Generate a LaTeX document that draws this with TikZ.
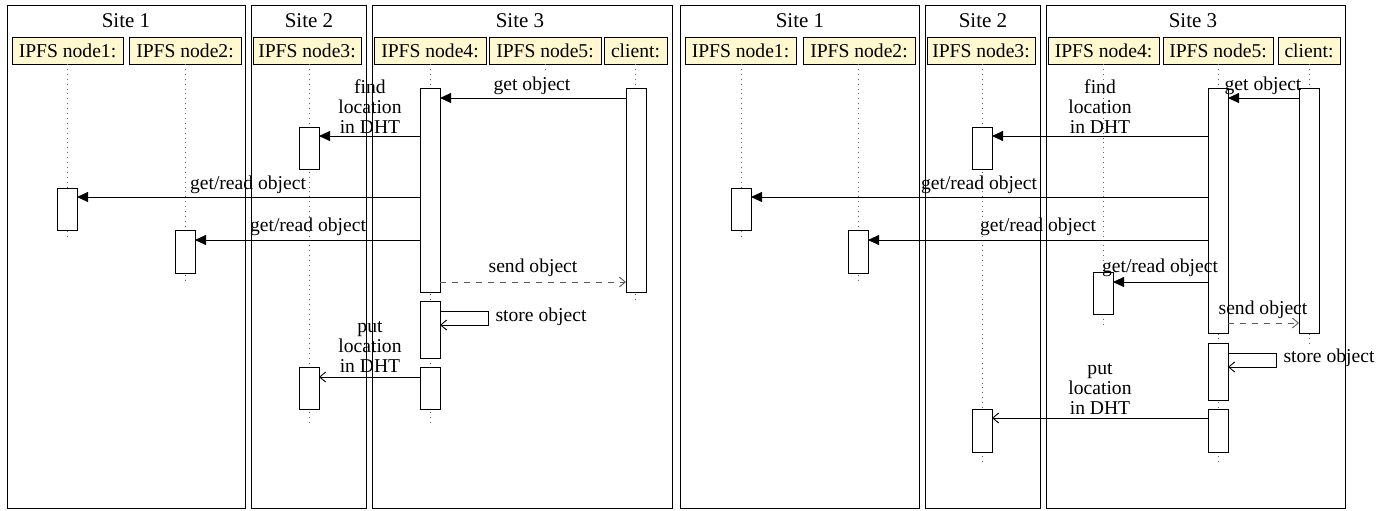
\documentclass[tikz,border=0pt]{standalone}
\usepackage{fontspec}
\setmainfont{Liberation Serif}
\usetikzlibrary{arrows.meta}
\definecolor{hdrfill}{RGB}{255,248,208}
\begin{document}
\begin{tikzpicture}[x=0.5pt,y=-0.5pt,
  every node/.style={font=\fontsize{9.8}{10}\selectfont},
  frame/.style={draw=black,line width=0.45pt},
  title/.style={inner sep=0pt,font=\fontsize{10.5}{11}\selectfont},
  hdr/.style={draw,fill=hdrfill,line width=0.4pt,minimum height=13.5pt,inner sep=0pt,outer sep=0pt},
  actbox/.style={draw,fill=white,line width=0.5pt,minimum width=10pt,inner sep=0pt,outer sep=0pt},
  life/.style={dotted,draw=gray!80!black,line width=0.45pt},
  call/.style={line width=0.45pt,-{Triangle[length=5.5pt,width=5pt]}},
  reply/.style={line width=0.45pt,-{Straight Barb[length=3pt,width=5pt]}},
  ret/.style={line width=0.45pt,dashed,draw=gray!70!black,-{Straight Barb[length=3pt,width=5pt]}},
  lbl/.style={inner sep=0pt,align=center}
]
\newcommand\actnode[4]{\node[actbox,minimum height={(#4-#3)*0.5pt}] (#1) at (#2,{(#3+#4)/2}) {};}
\useasboundingbox (0,0) rectangle (1391,510);

% ================= LEFT DIAGRAM =================
\node[frame,draw,minimum width=119pt,minimum height=251.5pt,inner sep=0pt] (Lf1) at (126,256.5) {};
\node[frame,draw,minimum width=57.5pt,minimum height=251.5pt,inner sep=0pt] (Lf2) at (308.5,256.5) {};
\node[frame,draw,minimum width=150pt,minimum height=251.5pt,inner sep=0pt] (Lf3) at (522,256.5) {};
\node[title] (Lt1) at (126,21) {Site 1};
\node[title] (Lt2) at (309,21) {Site 2};
\node[title] (Lt3) at (520,21) {Site 3};

\node[hdr,minimum width=55.5pt] (Lh1) at (67.5,50.5) {IPFS node1:};
\node[hdr,minimum width=56pt] (Lh2) at (185,50.5) {IPFS node2:};
\node[hdr,minimum width=54pt] (Lh3) at (307,50.5) {IPFS node3:};
\node[hdr,minimum width=56pt] (Lh4) at (430,50.5) {IPFS node4:};
\node[hdr,minimum width=56pt] (Lh5) at (545,50.5) {IPFS node5:};
\node[hdr,minimum width=31.5pt] (Lhc) at (635.5,50.5) {client:};

\coordinate (Le1) at (67,238);
\coordinate (Le2) at (185,283);
\coordinate (Le3) at (309,422);
\coordinate (Le4) at (430,422);
\coordinate (Le5) at (545,72);
\coordinate (Lec) at (635,300);
\draw[life] (Lh1.south -| Le1) -- (Le1);
\draw[life] (Lh2.south -| Le2) -- (Le2);
\draw[life] (Lh3.south -| Le3) -- (Le3);
\draw[life] (Lh4.south -| Le4) -- (Le4);
\draw[life] (Lh5.south -| Le5) -- (Le5);
\draw[life] (Lhc.south -| Lec) -- (Lec);

\actnode{La4a}{430}{88}{292}
\actnode{Lac}{636}{88}{292}
\actnode{La3a}{309}{127}{169}
\actnode{La1}{67}{188}{230}
\actnode{La2}{185}{230}{273}
\actnode{La4b}{430}{301}{358}
\actnode{La4c}{430}{367}{409}
\actnode{La3b}{309}{367}{409}

\draw[call] (Lac.west |- 0,98) -- (La4a.east |- 0,98);
\node[lbl] (Ll1) at (532,86) {get object};
\draw[call] (La4a.west |- 0,136) -- (La3a.east |- 0,136);
\node[lbl] (Ll2) at (370,107) {find\\location\\in DHT};
\draw[call] (La4a.west |- 0,197) -- (La1.east |- 0,197);
\node[lbl] (Ll3) at (248,185) {get/read object};
\draw[call] (La4a.west |- 0,240) -- (La2.east |- 0,240);
\node[lbl] (Ll4) at (308,227) {get/read object};
\draw[ret] (La4a.east |- 0,282) -- (Lac.west |- 0,282);
\node[lbl] (Ll5) at (533,268) {send object};
\coordinate (Ls1) at (488,311);
\coordinate (Ls2) at (488,325);
\draw[reply] (La4b.east |- Ls1) -- (Ls1) -- (Ls2) -- (La4b.east |- Ls2);
\node[lbl] (Ll6) at (541,317) {store object};
\draw[reply] (La4c.west |- 0,377) -- (La3b.east |- 0,377);
\node[lbl] (Ll7) at (370,347) {put\\location\\in DHT};

% ================= RIGHT DIAGRAM =================
\node[frame,draw,minimum width=119.5pt,minimum height=251.5pt,inner sep=0pt] (Rf1) at (799.5,256.5) {};
\node[frame,draw,minimum width=57.5pt,minimum height=251.5pt,inner sep=0pt] (Rf2) at (982.5,256.5) {};
\node[frame,draw,minimum width=149.5pt,minimum height=251.5pt,inner sep=0pt] (Rf3) at (1195.5,256.5) {};
\node[title] (Rt1) at (800,21) {Site 1};
\node[title] (Rt2) at (983,21) {Site 2};
\node[title] (Rt3) at (1193,21) {Site 3};

\node[hdr,minimum width=55.5pt] (Rh1) at (740.5,50.5) {IPFS node1:};
\node[hdr,minimum width=56pt] (Rh2) at (859,50.5) {IPFS node2:};
\node[hdr,minimum width=54pt] (Rh3) at (981,50.5) {IPFS node3:};
\node[hdr,minimum width=55.5pt] (Rh4) at (1103.5,50.5) {IPFS node4:};
\node[hdr,minimum width=55pt] (Rh5) at (1218,50.5) {IPFS node5:};
\node[hdr,minimum width=31pt] (Rhc) at (1309,50.5) {client:};

\coordinate (Re1) at (741,238);
\coordinate (Re2) at (858,283);
\coordinate (Re3) at (982,463);
\coordinate (Re4) at (1103,326);
\coordinate (Re5) at (1218,463);
\coordinate (Rec) at (1309,345);
\draw[life] (Rh1.south -| Re1) -- (Re1);
\draw[life] (Rh2.south -| Re2) -- (Re2);
\draw[life] (Rh3.south -| Re3) -- (Re3);
\draw[life] (Rh4.south -| Re4) -- (Re4);
\draw[life] (Rh5.south -| Re5) -- (Re5);
\draw[life] (Rhc.south -| Rec) -- (Rec);

\actnode{Ra5a}{1218}{88}{333}
\actnode{Rac}{1309}{88}{333}
\actnode{Ra3a}{982}{127}{169}
\actnode{Ra1}{741}{188}{230}
\actnode{Ra2}{858}{230}{273}
\actnode{Ra4}{1103}{272}{314}
\actnode{Ra5b}{1218}{343}{400}
\actnode{Ra5c}{1218}{409}{452}
\actnode{Ra3b}{982}{409}{452}

\draw[call] (Rac.west |- 0,98) -- (Ra5a.east |- 0,98);
\node[lbl] (Rl1) at (1263,86) {get object};
\draw[call] (Ra5a.west |- 0,136) -- (Ra3a.east |- 0,136);
\node[lbl] (Rl2) at (1100,107) {find\\location\\in DHT};
\draw[call] (Ra5a.west |- 0,197) -- (Ra1.east |- 0,197);
\node[lbl] (Rl3) at (979,185) {get/read object};
\draw[call] (Ra5a.west |- 0,240) -- (Ra2.east |- 0,240);
\node[lbl] (Rl4) at (1038,227) {get/read object};
\draw[call] (Ra5a.west |- 0,282) -- (Ra4.east |- 0,282);
\node[lbl] (Rl5) at (1160,268) {get/read object};
\draw[ret] (Ra5a.east |- 0,323) -- (Rac.west |- 0,323);
\node[lbl] (Rl6) at (1263,310) {send object};
\coordinate (Rs1) at (1276,353);
\coordinate (Rs2) at (1276,367);
\draw[reply] (Ra5b.east |- Rs1) -- (Rs1) -- (Rs2) -- (Ra5b.east |- Rs2);
\node[lbl] (Rl7) at (1329,358) {store object};
\draw[reply] (Ra5c.west |- 0,418) -- (Ra3b.east |- 0,418);
\node[lbl] (Rl8) at (1100,389) {put\\location\\in DHT};
\end{tikzpicture}
\end{document}
